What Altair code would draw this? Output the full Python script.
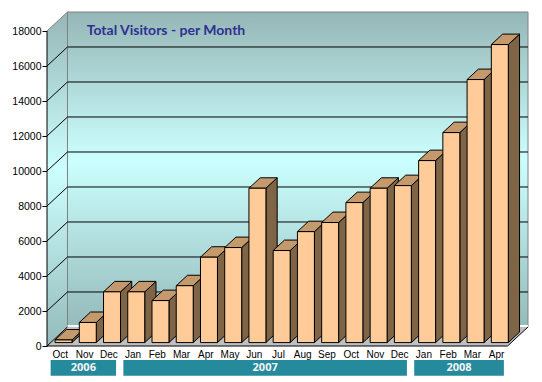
import altair as alt
import pandas as pd

# ---------------- data ----------------
months = ["Oct", "Nov", "Dec", "Jan", "Feb", "Mar", "Apr", "May", "Jun", "Jul",
          "Aug", "Sep", "Oct", "Nov", "Dec", "Jan", "Feb", "Mar", "Apr"]
visitors = [150, 1150, 2900, 2900, 2400, 3250, 4880, 5430, 8820, 5260,
            6340, 6860, 8000, 8820, 8970, 10400, 12000, 15030, 17030]
years = ["2006", "2007", "2008"]
year_first_month = [0, 3, 15]
year_month_count = [3, 12, 4]
y_ticks = [0, 2000, 4000, 6000, 8000, 10000, 12000, 14000, 16000, 18000]
chart_title = "Total Visitors - per Month"

# ---------------- 3D geometry (in data units) ----------------
N = len(months)
YMAX = y_ticks[-1]
DX = 0.845      # depth shift in slot units
DY = 1086       # depth shift in value units
F0, F1 = 0.18, 0.73   # bar front / back depth fraction
BAR_L, BAR_W = 0.18, 0.70
SHIFT = (F1 - F0) * DX

xs = alt.Scale(domain=[0, N + DX], nice=False, zero=False)
ys = alt.Scale(domain=[0, YMAX + DY], nice=False, zero=False)

label_expr = "[" + ",".join("'%s'" % m for m in months) + "][floor(datum.value)]"
xaxis = alt.Axis(values=[i + 0.53 for i in range(N)], labelExpr=label_expr,
                 domain=False, ticks=False, grid=False, title=None,
                 labelFont="Liberation Sans", labelFontSize=10, labelColor="black",
                 labelPadding=3, labelOverlap=False, labelFlush=False, labelBound=False)
yaxis = alt.Axis(values=y_ticks, domain=False, grid=False, ticks=True, tickColor="black",
                 tickSize=5, tickWidth=1, title=None, format="d",
                 labelFont="Liberation Sans", labelFontSize=10.5, labelColor="black",
                 labelPadding=1)


def X(f):
    return alt.X(f, type="quantitative", scale=xs, axis=xaxis)


def Y(f):
    return alt.Y(f, type="quantitative", scale=ys, axis=yaxis)


wall_grad = alt.Gradient(
    gradient="linear", x1=0, y1=0, x2=0, y2=1,
    stops=[alt.GradientStop(color="#96b6b6", offset=0),
           alt.GradientStop(color="#ccffff", offset=0.47),
           alt.GradientStop(color="#95baba", offset=1)])

# walls
left_wall_df = pd.DataFrame({"x": [0, DX], "y": [0, DY], "y2": [YMAX, YMAX + DY]})
left_wall = alt.Chart(left_wall_df).mark_area(color=wall_grad, strokeWidth=0).encode(
    x=X("x"), y=Y("y"), y2="y2")

back_wall_df = pd.DataFrame({"x": [DX], "x2": [N + DX], "y": [DY], "y2": [YMAX + DY]})
back_wall = alt.Chart(back_wall_df).mark_rect(color=wall_grad, stroke="#808080",
                                               strokeWidth=1).encode(
    x=X("x"), x2="x2", y=Y("y"), y2="y2")

floor_df = pd.DataFrame({"y": [0, DY], "x": [0, DX], "x2": [N, N + DX]})
floor = alt.Chart(floor_df).mark_area(orient="horizontal", color="#c0c0c0",
                                      strokeWidth=0).encode(
    y=Y("y"), x=X("x"), x2="x2")

# gridlines
back_grid_df = pd.DataFrame({"y": [v + DY for v in y_ticks[1:-1]]})
back_grid_df["x"] = DX
back_grid_df["x2"] = N + DX
back_grid = alt.Chart(back_grid_df).mark_rule(color="black", strokeWidth=1).encode(
    x=X("x"), x2="x2", y=Y("y"))

side_grid_df = pd.DataFrame({"y": y_ticks[:-1], "y2": [v + DY for v in y_ticks[:-1]]})
side_grid_df["x"] = 0
side_grid_df["x2"] = DX
side_grid = alt.Chart(side_grid_df).mark_rule(color="black", strokeWidth=1).encode(
    x=X("x"), x2="x2", y=Y("y"), y2="y2")

top_edge_df = pd.DataFrame({"x": [0], "x2": [DX], "y": [YMAX], "y2": [YMAX + DY]})
top_edge = alt.Chart(top_edge_df).mark_rule(color="#808080", strokeWidth=1).encode(
    x=X("x"), x2="x2", y=Y("y"), y2="y2")

white_df = pd.DataFrame({"x": [DX], "x2": [N + DX], "y": [DY + 60]})
white_strip = alt.Chart(white_df).mark_rule(color="white", strokeWidth=2).encode(
    x=X("x"), x2="x2", y=Y("y"))

edge_df = pd.DataFrame({"x": [0, N], "x2": [N, N + DX], "y": [0, 0], "y2": [0, DY]})
floor_edge = alt.Chart(edge_df).mark_rule(color="black", strokeWidth=1).encode(
    x=X("x"), x2="x2", y=Y("y"), y2="y2")

axis_df = pd.DataFrame({"x": [0], "y": [0], "y2": [YMAX]})
axis_line = alt.Chart(axis_df).mark_rule(color="black", strokeWidth=1).encode(
    x=X("x"), y=Y("y"), y2="y2")

# bars
front_rows, side_rows, top_rows = [], [], []
for i, v in enumerate(visitors):
    xl = i + BAR_L + F0 * DX
    xr = xl + BAR_W
    yb = F0 * DY
    yt = v + F0 * DY
    front_rows.append({"bar": i, "x": xl, "x2": xr, "y": yb, "y2": yt})
    side_rows.append({"bar": i, "x": xr, "y": yb, "y2": yt})
    side_rows.append({"bar": i, "x": xr + SHIFT, "y": F1 * DY, "y2": v + F1 * DY})
    top_rows.append({"bar": i, "y": yt, "x": xl, "x2": xr})
    top_rows.append({"bar": i, "y": v + F1 * DY, "x": xl + SHIFT, "x2": xr + SHIFT})

sides = alt.Chart(pd.DataFrame(side_rows)).mark_area(
    color="#7f6446", stroke="black", strokeWidth=1).encode(
    x=X("x"), y=Y("y"), y2="y2", detail="bar:N")
tops = alt.Chart(pd.DataFrame(top_rows)).mark_area(
    orient="horizontal", color="#c49a6c", stroke="black", strokeWidth=1).encode(
    y=Y("y"), x=X("x"), x2="x2", detail="bar:N")
fronts = alt.Chart(pd.DataFrame(front_rows)).mark_rect(
    color="#ffcc99", stroke="black", strokeWidth=1).encode(
    x=X("x"), x2="x2", y=Y("y"), y2="y2")

# year boxes
PAD = 0.15
yr_df = pd.DataFrame({
    "year": years,
    "x": [s + PAD for s in year_first_month],
    "x2": [s + c - PAD for s, c in zip(year_first_month, year_month_count)],
})
yr_df["xc"] = (yr_df["x"] + yr_df["x2"]) / 2
yr_df["y"] = -800
yr_df["y2"] = -1697
yr_df["yc"] = -1257
year_boxes = alt.Chart(yr_df).mark_rect(color="#268a9d").encode(
    x=X("x"), x2="x2", y=Y("y"), y2="y2")
year_text = alt.Chart(yr_df).mark_text(
    font="Open Sans", fontWeight="bold", fontSize=11, color="#f4f4f4",
    baseline="middle", align="center").encode(
    x=X("xc"), y=Y("yc"), text="year:N")

chart = alt.layer(
    left_wall, back_wall, floor, white_strip, back_grid, side_grid, top_edge,
    floor_edge, axis_line, sides, tops, fronts, year_boxes, year_text
).properties(
    width=481, height=334,
    title=alt.TitleParams(chart_title, anchor="start", frame="group", dx=39.7,
                          offset=-37, baseline="alphabetic", font="Lato",
                          fontWeight="bold", fontSize=14, color="#2e3192"),
    padding={"left": 39, "top": 4, "right": 6, "bottom": 30},
    autosize=alt.AutoSizeParams(type="none"),
    background="white",
).configure_view(stroke=None)

chart.save("out.html", embed_options={"renderer": "svg", "actions": False})
